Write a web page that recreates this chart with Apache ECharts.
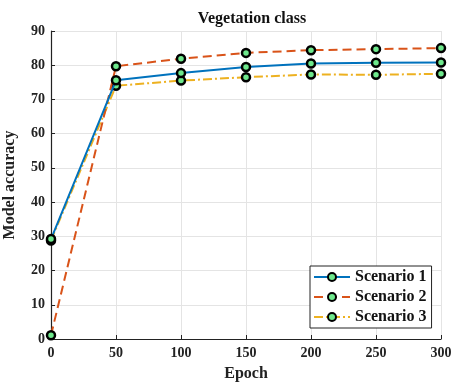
<!DOCTYPE html>
<html><head><meta charset="utf-8">
<script src="https://cdn.jsdelivr.net/npm/echarts@6/dist/echarts.min.js"></script>
<style>html,body{margin:0;padding:0;background:#fff}#c{width:452px;height:383px}</style>
</head><body><div id="c"></div>
<script>
const epochs = [0, 50, 100, 150, 200, 250, 300];
const scenario1 = [29.2, 75.6, 77.7, 79.5, 80.5, 80.7, 80.8];
const scenario2 = [1.1, 79.7, 81.9, 83.6, 84.4, 84.7, 85.0];
const scenario3 = [28.8, 74.0, 75.5, 76.5, 77.3, 77.2, 77.5];
const seriesNames = ['Scenario 1', 'Scenario 2', 'Scenario 3'];
const yTicks = [0, 10, 20, 30, 40, 50, 60, 70, 80, 90];

const font = 'Liberation Serif';
const colors = ['#0072BD', '#D95319', '#EDB120'];
const dashes = ['solid', [9, 5], [9, 3, 2, 3]];
const vals = [scenario1, scenario2, scenario3];

const chart = echarts.init(document.getElementById('c'), null, {renderer: 'canvas'});
chart.setOption({
  animation: false,
  backgroundColor: '#fff',
  title: {
    text: 'Vegetation class', left: 247, top: 6, textAlign: 'center',
    textStyle: {fontFamily: font, fontWeight: 'bold', fontSize: 16, color: '#111'}
  },
  grid: {left: 51, right: 11, top: 31, bottom: 44, containLabel: false, outerBoundsMode: 'none'},
  legend: {
    left: 310, top: 266, orient: 'vertical',
    data: seriesNames,
    itemWidth: 36, itemHeight: 10, itemGap: 4,
    padding: [3, 5, 3, 3],
    borderColor: '#222', borderWidth: 1, backgroundColor: '#fff',
    textStyle: {fontFamily: font, fontWeight: 'bold', fontSize: 16, color: '#111'}
  },
  xAxis: {
    type: 'value', min: 0, max: 300, interval: 50,
    name: 'Epoch', nameLocation: 'middle', nameGap: 27,
    nameTextStyle: {fontFamily: font, fontWeight: 'bold', fontSize: 16, color: '#222'},
    axisLine: {onZero: false, lineStyle: {color: '#222', width: 1.2}},
    axisTick: {inside: true, length: 4, lineStyle: {color: '#222'}},
    axisLabel: {fontFamily: font, fontWeight: 'bold', fontSize: 14, color: '#222', margin: 7},
    splitLine: {show: true, lineStyle: {color: '#e4e4e4', width: 1}}
  },
  yAxis: {
    type: 'value', min: 0, max: 90, interval: 10,
    name: 'Model accuracy', nameLocation: 'middle', nameGap: 33,
    nameTextStyle: {fontFamily: font, fontWeight: 'bold', fontSize: 16, color: '#222'},
    axisLine: {show: true, lineStyle: {color: '#222', width: 1.2}},
    axisTick: {show: true, inside: true, length: 4, lineStyle: {color: '#222'}},
    axisLabel: {fontFamily: font, fontWeight: 'bold', fontSize: 14, color: '#222', margin: 6,
      formatter: v => yTicks.includes(v) ? String(v) : ''},
    splitLine: {show: true, lineStyle: {color: '#e4e4e4', width: 1}}
  },
  series: seriesNames.map((n, i) => ({
    name: n, type: 'line',
    data: epochs.map((e, j) => [e, vals[i][j]]),
    symbol: 'circle', symbolSize: 8,
    lineStyle: {color: colors[i], width: 2, type: dashes[i]},
    itemStyle: {color: '#6ee88c', borderColor: '#000', borderWidth: 2.5},
    z: 3 - i
  }))
});
</script></body></html>
